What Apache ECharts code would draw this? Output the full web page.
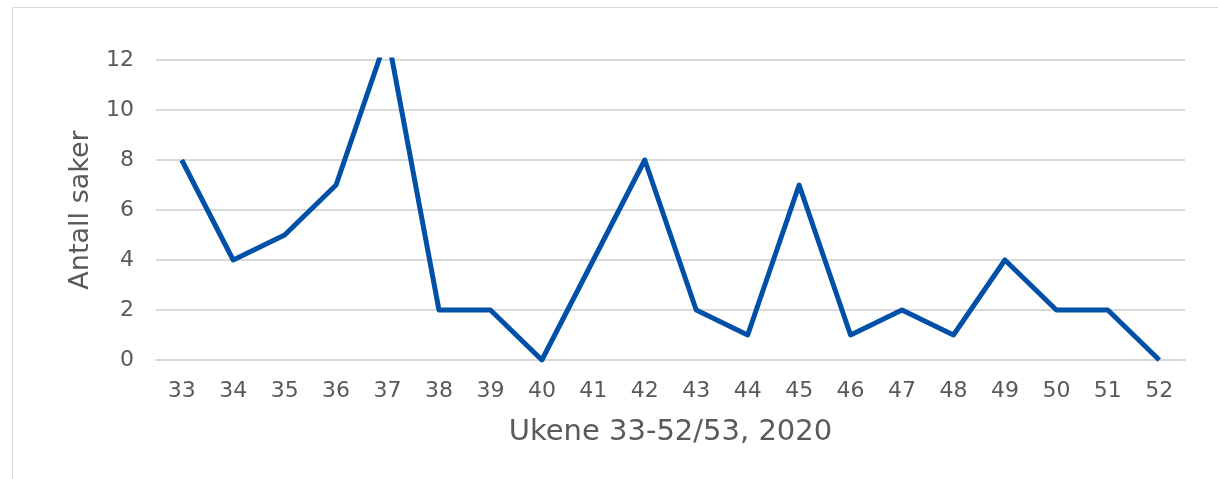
<!DOCTYPE html>
<html>
<head>
<meta charset="utf-8">
<script src="https://cdn.jsdelivr.net/npm/echarts@6/dist/echarts.min.js"></script>
<style>
  html, body { margin: 0; padding: 0; background: #fff; }
  #chart { width: 1218px; height: 479px; }
</style>
</head>
<body>
<div id="chart"></div>
<script>
const weeks = ["33", "34", "35", "36", "37", "38", "39", "40", "41", "42",
               "43", "44", "45", "46", "47", "48", "49", "50", "51", "52"]
const cases = [8, 4, 5, 7, 13, 2, 2, 0, 4, 8, 2, 1, 7, 1, 2, 1, 4, 2, 2, 0]

const chart = echarts.init(document.getElementById("chart"))

const option = {
  animation: false,
  textStyle: { fontFamily: "DejaVu Sans" },
  graphic: [
    {
      type: "rect",
      shape: { x: 12.5, y: 7.5, width: 1300, height: 600 },
      style: { fill: "none", stroke: "#d9d9d9", lineWidth: 1 },
      silent: true
    }
  ],
  grid: { left: 156, right: 33, top: 60, bottom: 119 },
  xAxis: {
    type: "category",
    data: weeks,
    name: "Ukene 33-52/53, 2020",
    nameLocation: "middle",
    nameGap: 58,
    nameTextStyle: { fontSize: 29, color: "#595959" },
    axisTick: { show: false },
    axisLine: { lineStyle: { color: "#d9d9d9", width: 2 } },
    axisLabel: { fontSize: 22, color: "#595959", margin: 20 }
  },
  yAxis: {
    type: "value",
    min: 0,
    max: 12,
    interval: 2,
    name: "Antall saker",
    nameLocation: "middle",
    nameGap: 62,
    nameTextStyle: { fontSize: 27, color: "#595959" },
    axisLabel: { fontSize: 22, color: "#595959", margin: 22 },
    splitLine: { lineStyle: { color: "#d9d9d9", width: 2 } }
  },
  series: [
    {
      type: "line",
      data: cases,
      symbol: "none",
      clip: true,
      lineStyle: { color: "#0050a8", width: 5, join: "round" }
    }
  ]
}

chart.setOption(option)
</script>
</body>
</html>
